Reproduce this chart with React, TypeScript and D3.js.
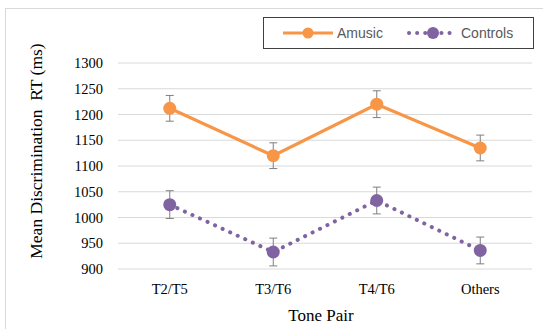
import * as d3 from 'd3'
import React from 'react'

const categories = ['T2/T5', 'T3/T6', 'T4/T6', 'Others']
const amusicValues = [1212, 1120, 1220, 1135]
const amusicErrors = [25, 25, 26, 25]
const controlValues = [1025, 933, 1033, 936]
const controlErrors = [27, 27, 26, 26]
const yTicks = [900, 950, 1000, 1050, 1100, 1150, 1200, 1250, 1300]

const WIDTH = 543
const HEIGHT = 329
const margin = { left: 118, right: 11, top: 63, bottom: 60 }

const ORANGE = '#F79646'
const PURPLE = '#8064A2'
const ERR = '#7f7f7f'
const SERIF = '"Liberation Serif", "Times New Roman", serif'
const SANS = '"Liberation Sans", Carlito, Arial, sans-serif'

export default function App() {
  const x = d3
    .scaleBand()
    .domain(categories)
    .range([margin.left, WIDTH - margin.right])
  const y = d3
    .scaleLinear()
    .domain([900, 1300])
    .range([HEIGHT - margin.bottom, margin.top])
  const cx = (c: string) => (x(c) as number) + x.bandwidth() / 2

  const line = d3
    .line<number>()
    .x((d, i) => cx(categories[i]))
    .y(d => y(d))

  const series = [
    { name: 'Amusic', values: amusicValues, errors: amusicErrors, color: ORANGE, dotted: false },
    { name: 'Controls', values: controlValues, errors: controlErrors, color: PURPLE, dotted: true },
  ]

  return (
    <svg width={WIDTH} height={HEIGHT} style={{ position: 'absolute', left: 0, top: 0 }}>
      <rect x={0} y={0} width={WIDTH} height={HEIGHT} fill="#fff" />
      <rect x={5.5} y={8.5} width={WIDTH + 10} height={HEIGHT + 10} fill="none" stroke="#d9d9d9" />

      {/* grid */}
      {yTicks.map(t => (
        <g key={t}>
          <line x1={margin.left} x2={WIDTH - margin.right} y1={y(t)} y2={y(t)} stroke="#d9d9d9" strokeWidth={1} />
          <text x={103} y={y(t)} dy="0.35em" textAnchor="end" fontFamily={SERIF} fontSize={14.5} fill="#000">
            {t}
          </text>
        </g>
      ))}

      {categories.map(c => (
        <text key={c} x={cx(c)} y={294} textAnchor="middle" fontFamily={SERIF} fontSize={14.5} fill="#000">
          {c}
        </text>
      ))}

      <text x={321} y={321} textAnchor="middle" fontFamily={SERIF} fontSize={17} fill="#000">
        Tone Pair
      </text>
      <text
        transform="translate(42,151) rotate(-90)"
        textAnchor="middle"
        fontFamily={SERIF}
        fontSize={17.5}
        fill="#000"
        style={{ whiteSpace: 'pre' }}
      >
        Mean Discrimination  RT (ms)
      </text>

      {series.map(s => (
        <g key={s.name}>
          <path
            d={line(s.values) as string}
            fill="none"
            stroke={s.color}
            strokeWidth={s.dotted ? 4 : 3.2}
            strokeLinecap={s.dotted ? 'round' : 'butt'}
            strokeDasharray={s.dotted ? '0.1 8.2' : undefined}
          />
          {s.values.map((v, i) => {
            const px = cx(categories[i])
            const lo = y(v - s.errors[i])
            const hi = y(v + s.errors[i])
            return (
              <g key={i}>
                <line x1={px} x2={px} y1={lo} y2={hi} stroke={ERR} strokeWidth={1} />
                <line x1={px - 4} x2={px + 4} y1={lo} y2={lo} stroke={ERR} strokeWidth={1} />
                <line x1={px - 4} x2={px + 4} y1={hi} y2={hi} stroke={ERR} strokeWidth={1} />
                <circle cx={px} cy={y(v)} r={6.5} fill={s.color} />
              </g>
            )
          })}
        </g>
      ))}

      {/* legend */}
      <rect x={263.5} y={17.5} width={270} height={31} fill="#fff" stroke="#404040" strokeWidth={1} />
      <line x1={283} x2={333} y1={33} y2={33} stroke={ORANGE} strokeWidth={3.2} />
      <circle cx={308} cy={33} r={5.5} fill={ORANGE} />
      <text x={337} y={33} dy="0.35em" fontFamily={SANS} fontSize={14} fill="#595959">
        Amusic
      </text>
      <line
        x1={409}
        x2={457}
        y1={33}
        y2={33}
        stroke={PURPLE}
        strokeWidth={4}
        strokeLinecap="round"
        strokeDasharray="0.1 8"
      />
      <circle cx={433} cy={33} r={6} fill={PURPLE} />
      <text x={461} y={33} dy="0.35em" fontFamily={SANS} fontSize={14} fill="#595959">
        Controls
      </text>
    </svg>
  )
}
